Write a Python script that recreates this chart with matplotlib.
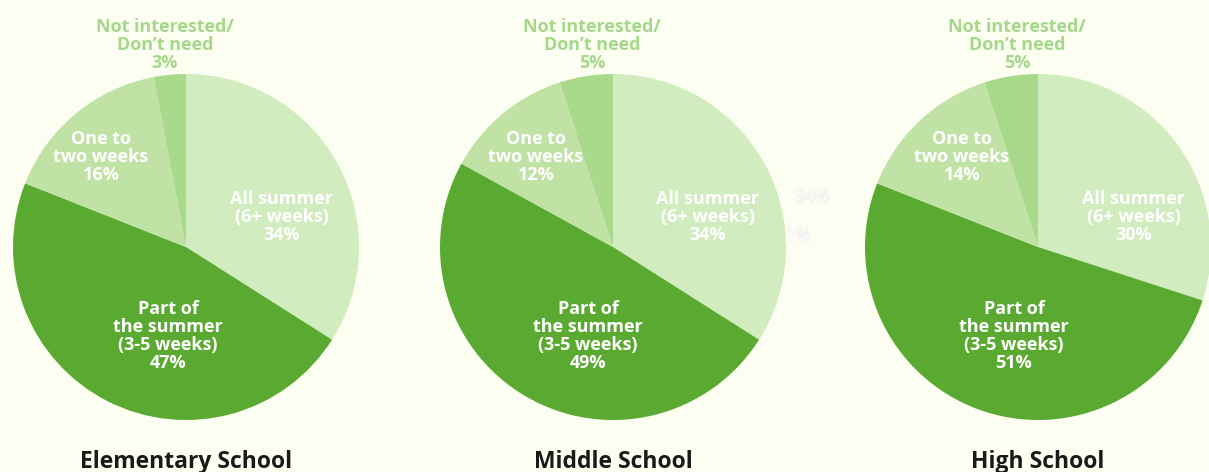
import matplotlib
matplotlib.use("Agg")
import matplotlib.pyplot as plt
import matplotlib.patheffects as pe

# ---- data ----
schools = ["Elementary School", "Middle School", "High School"]
categories = ["All summer\n(6+ weeks)", "Part of\nthe summer\n(3-5 weeks)",
              "One to\ntwo weeks", "Not interested/\nDon\u2019t need"]
elementary = [34, 47, 16, 3]
middle = [34, 49, 12, 5]
high = [30, 51, 14, 5]
series = [elementary, middle, high]

colors = ["#D1ECBE", "#5AAA32", "#C0E3A5", "#A9DA8B"]
bg = "#FDFEF2"

W, H = 1209, 472
fig = plt.figure(figsize=(W / 100, H / 100), dpi=100, facecolor=bg)
ax = fig.add_axes([0, 0, 1, 1])
ax.set_facecolor(bg)

centers_x = [186, 613, 1038]
cy = H - 247
R = 173

# label offsets (pixels, relative to center; y downwards)
label_offsets = [
    [(96, -30), (-18, 89), (-85, -90), None],
    [(95, -30), (-25, 89), (-77, -90), None],
    [(96, -30), (-24, 89), (-76, -90), None],
]
font = "Open Sans"
fs = 13

for i, (vals, cx) in enumerate(zip(series, centers_x)):
    ax.pie(vals, colors=colors, startangle=90, counterclock=False,
           center=(cx, cy), radius=R,
           wedgeprops=dict(linewidth=0))
    for j, (cat, v) in enumerate(zip(categories, vals)):
        txt = f"{cat}\n{v}%"
        off = label_offsets[i][j]
        if off is None:
            ax.text(cx - 21, H - 45, txt, ha="center", va="center",
                    color="#A5D88A", fontsize=fs, fontweight="bold",
                    family=font, linespacing=1.0)
        else:
            ax.text(cx + off[0], cy - off[1], txt, ha="center", va="center",
                    color="white", fontsize=fs, fontweight="bold",
                    family=font, linespacing=1.0)
    ax.text(cx, H - 462, schools[i], ha="center", va="center",
            color="#1A1A1A", fontsize=16.5, fontweight="bold", family=font)

# faint leftover labels beside the middle pie
stroke = [pe.withStroke(linewidth=0.8, foreground="#E6E6E6")]
ax.text(812, H - 197, "34%", ha="center", va="center", color="white",
        fontsize=fs, family=font, path_effects=stroke)
ax.text(798, H - 236, "1%", ha="center", va="center", color="white",
        fontsize=fs, family=font, path_effects=stroke)

ax.set_xlim(0, W)
ax.set_ylim(0, H)
ax.set_aspect("auto")
ax.axis("off")

fig.savefig("out.png", dpi=100, facecolor=bg)
